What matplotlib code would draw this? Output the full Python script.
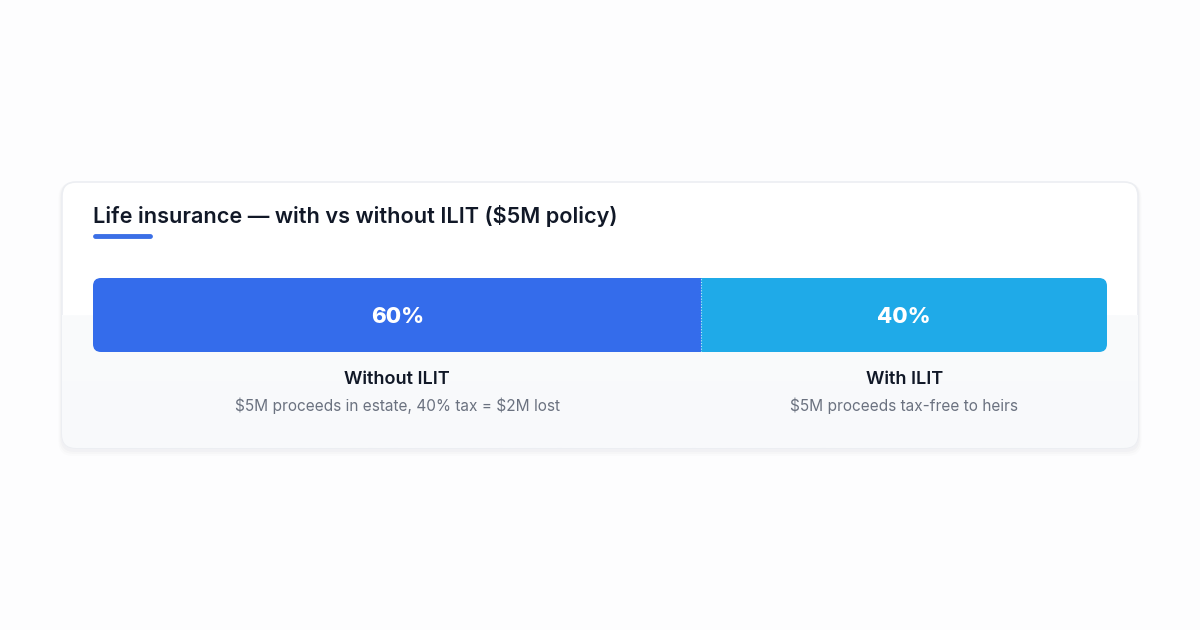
import matplotlib.pyplot as plt
from matplotlib.patches import FancyBboxPatch
from matplotlib.colors import LinearSegmentedColormap
import numpy as np

# data
segments = ['Without ILIT', 'With ILIT']
shares = [60, 40]
notes = ['$5M proceeds in estate, 40% tax = $2M lost', '$5M proceeds tax-free to heirs']
colors = ['#346CEB', '#1FAAE8']
title = 'Life insurance \u2014 with vs without ILIT ($5M policy)'

plt.rcParams['font.family'] = ['Inter', 'DejaVu Sans']
plt.rcParams['text.parse_math'] = False

fig = plt.figure(figsize=(12, 6.3), dpi=100)
fig.patch.set_facecolor('#fdfdfe')

# background layer in pixel coordinates
bg = fig.add_axes([0, 0, 1, 1])
bg.set_xlim(0, 1200)
bg.set_ylim(630, 0)
bg.axis('off')

# card shadow + card
for i, a in enumerate([0.02, 0.015, 0.01]):
    off = 3 + i * 2
    bg.add_patch(FancyBboxPatch((62 - off / 2, 182 + 1), 1076 + off, 266 + off,
                                boxstyle='round,pad=0,rounding_size=14',
                                fc='#1e293b', ec='none', alpha=a))
card = FancyBboxPatch((62, 182), 1076, 266, boxstyle='round,pad=0,rounding_size=14',
                      fc='white', ec='#eceef2', lw=1.2)
bg.add_patch(card)
# faint grey lower half of the card
grad = np.linspace(0, 1, 100).reshape(-1, 1)
im = bg.imshow(grad, extent=(62, 1138, 448, 315),
               cmap=LinearSegmentedColormap.from_list('g', ['#fafbfc', '#f8f9fb']),
               aspect='auto', zorder=1)
im.set_clip_path(card)

bg.text(93, 216, title, fontsize=15.6, fontweight='semibold', color='#111827',
        va='center', ha='left', zorder=3)
bg.plot([95, 150], [236, 236], color='#3B6FE6', lw=3.5, solid_capstyle='round', zorder=3)

# bar axis
x0, x1, y0, y1 = 93, 1107, 278, 352
ax = fig.add_axes([x0 / 1200, 1 - y1 / 630, (x1 - x0) / 1200, (y1 - y0) / 630])
ax.set_xlim(0, sum(shares))
ax.set_ylim(-0.5, 0.5)
ax.axis('off')

clip = FancyBboxPatch((x0, y0), x1 - x0, y1 - y0, boxstyle='round,pad=0,rounding_size=8',
                      fc='none', ec='none')
bg.add_patch(clip)

left = 0
for name, val, col, note in zip(segments, shares, colors, notes):
    bars = ax.barh(0, val, left=left, height=1.0, color=col, edgecolor='none')
    for b in bars:
        b.set_clip_path(clip)
    mid = left + val / 2
    ax.text(mid, -0.03, f'{val}%', ha='center', va='center', color='white',
            fontsize=16, fontweight='heavy')
    px = x0 + (x1 - x0) * mid / sum(shares)
    bg.text(px, 379, name, ha='center', va='center', fontsize=13,
            fontweight='semibold', color='#111827', zorder=3)
    bg.text(px, 406, note, ha='center', va='center', fontsize=11.1,
            color='#6B7280', zorder=3)
    left += val

ax.axvline(shares[0], color='white', lw=0.8, ls=(0, (1, 1.5)), alpha=0.7)

fig.savefig('out.png', dpi=100, facecolor=fig.get_facecolor())
